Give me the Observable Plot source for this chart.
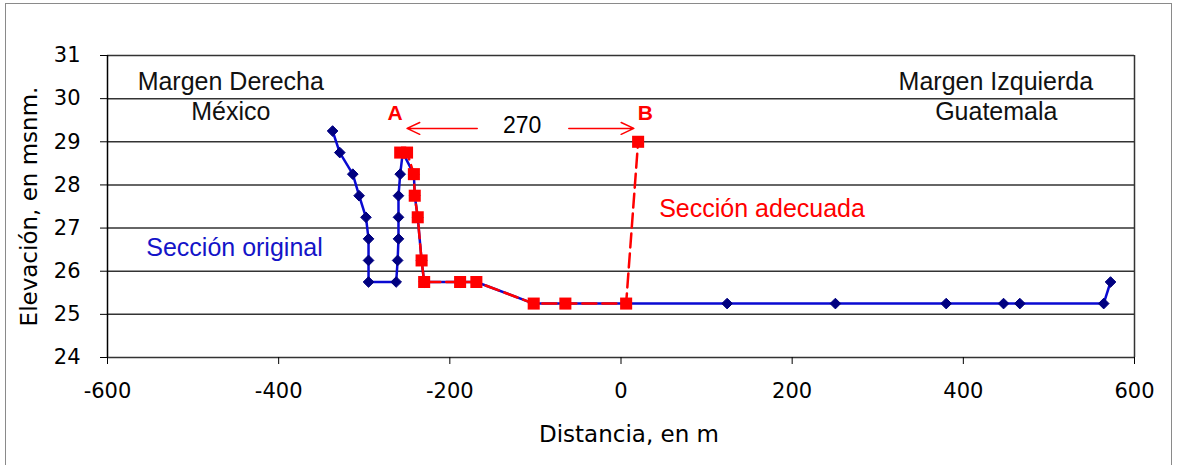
<!DOCTYPE html>
<html><head><meta charset="utf-8">
<script src="https://cdn.jsdelivr.net/npm/d3@7"></script>
<script src="https://cdn.jsdelivr.net/npm/@observablehq/plot@0.6"></script>
<style>
body{margin:0;background:#fff;}
#wrap{position:relative;width:1177px;height:465px;overflow:hidden;background:#fff;}
#border{position:absolute;left:5px;top:3px;width:1167px;height:480px;border:1px solid #8a8a8a;box-sizing:border-box;}
#chart{position:absolute;left:0;top:0;}
</style></head>
<body><div id="wrap"><div id="border"></div><div id="chart"></div></div>
<script>
// Sección original (blue)
const origDist = [-337, -328.6, -313.4, -306, -298, -295, -295, -295, -262.7, -261, -260, -260, -260, -258, -255, -242, -241, -237.5, -233, -230, -188, -169, -102, -65, 6, 124, 250.5, 380, 447, 466, 564, 572];
const origElev = [29.25, 28.75, 28.25, 27.75, 27.25, 26.75, 26.25, 25.75, 25.75, 26.25, 26.75, 27.25, 27.75, 28.25, 28.75, 28.25, 27.75, 27.25, 26.25, 25.75, 25.75, 25.75, 25.25, 25.25, 25.25, 25.25, 25.25, 25.25, 25.25, 25.25, 25.25, 25.75];
// Sección adecuada (red)
const adecDist = [-258, -250, -242, -241, -237.5, -233, -230, -188, -169, -102, -65, 6, 20];
const adecElev = [28.75, 28.75, 28.25, 27.75, 27.25, 26.25, 25.75, 25.75, 25.75, 25.25, 25.25, 25.25, 29.0];
// ticks
const xTicks = [-600, -400, -200, 0, 200, 400, 600];
const yTicks = [24, 25, 26, 27, 28, 29, 30, 31];
// annotations
const marginLabels = ["Margen Derecha", "México", "Margen Izquierda", "Guatemala"];
const marginLabelX = [-456, -456, 438, 438.5];
const marginLabelY = [30.38, 29.69, 30.38, 29.68];
const pointLabels = ["A", "B"];
const pointLabelX = [-264, 28.5];
const pointLabelY = [29.66, 29.66];
const widthLabel = ["270"];
const widthLabelX = [-115.6];
const widthLabelY = [29.38];
const arrowX1 = [-168, -61];
const arrowX2 = [-250, 15];
const arrowY = [29.31, 29.31];
const xTitle = "Distancia, en m";
const yTitle = "Elevación, en msnm.";

const orig = origDist.map((d, i) => ({d, e: origElev[i]}));
const adec = adecDist.map((d, i) => ({d, e: adecElev[i]}));
const margins = marginLabels.map((t, i) => ({t, x: marginLabelX[i], y: marginLabelY[i]}));
const points = pointLabels.map((t, i) => ({t, x: pointLabelX[i], y: pointLabelY[i]}));
const widths = widthLabel.map((t, i) => ({t, x: widthLabelX[i], y: widthLabelY[i]}));
const arrows = arrowX1.map((x1, i) => ({x1, x2: arrowX2[i], y: arrowY[i]}));

const ann = "Liberation Sans, Arial, sans-serif";
const fmt = d => String(d);

const chart = Plot.plot({
  width: 1177, height: 465,
  marginLeft: 107, marginRight: 43, marginTop: 55, marginBottom: 108,
  x: {domain: [-600, 600]},
  y: {domain: [24, 31]},
  style: {fontFamily: "DejaVu Sans, sans-serif", fontSize: "21px", color: "#000", background: "transparent", overflow: "visible"},
  marks: [
    Plot.ruleY(yTicks, {stroke: "#333", strokeWidth: 1.5}),
    Plot.ruleX([600], {stroke: "#333", strokeWidth: 1.5}),
    Plot.ruleX([-600], {stroke: "#000", strokeWidth: 1.5}),
    Plot.axisY(yTicks, {tickSize: 7, tickPadding: 20, fontSize: 21, stroke: "#000", tickFormat: fmt, label: null}),
    Plot.axisX(xTicks, {tickSize: 7, tickPadding: 19, fontSize: 21, stroke: "#000", tickFormat: fmt, label: null}),
    Plot.text([yTitle], {frameAnchor: "left", textAnchor: "middle", lineAnchor: "middle", rotate: -90, dx: -78, fontSize: 23, fill: "#000"}),
    Plot.text([xTitle], {frameAnchor: "bottom", textAnchor: "middle", lineAnchor: "middle", dx: 8, dy: 77, fontSize: 23, fill: "#000"}),
    Plot.line(orig, {x: "d", y: "e", stroke: "#0a0ad2", strokeWidth: 2.5}),
    Plot.dot(orig, {x: "d", y: "e", symbol: "diamond2", r: 4.8, fill: "#000080", stroke: "#000080", strokeWidth: 1}),
    Plot.line(adec, {x: "d", y: "e", stroke: "#ff0000", strokeWidth: 2.5, strokeDasharray: "14,6"}),
    Plot.dot(adec, {x: "d", y: "e", symbol: "square", r: 6.8, fill: "#ff0000", stroke: "none"}),
    Plot.arrow(arrows, {x1: "x1", x2: "x2", y1: "y", y2: "y", stroke: "#ff0000", strokeWidth: 1.5, headLength: 14, headAngle: 50}),
    Plot.text(margins, {x: "x", y: "y", text: "t", fontFamily: ann, fontSize: 25, fill: "#111"}),
    Plot.text(points, {x: "x", y: "y", text: "t", fontFamily: ann, fontSize: 21, fontWeight: "bold", fill: "#ff0000"}),
    Plot.text(widths, {x: "x", y: "y", text: "t", fontFamily: ann, fontSize: 23, fill: "#000"}),
    Plot.text(["Sección original"], {x: -451.6, y: 26.54, fontFamily: ann, fontSize: 25, fill: "#1414c8"}),
    Plot.text(["Sección adecuada"], {x: 164.8, y: 27.45, fontFamily: ann, fontSize: 25, fill: "#ff0000"})
  ]
});
document.getElementById("chart").appendChild(chart);
</script>
</body></html>
